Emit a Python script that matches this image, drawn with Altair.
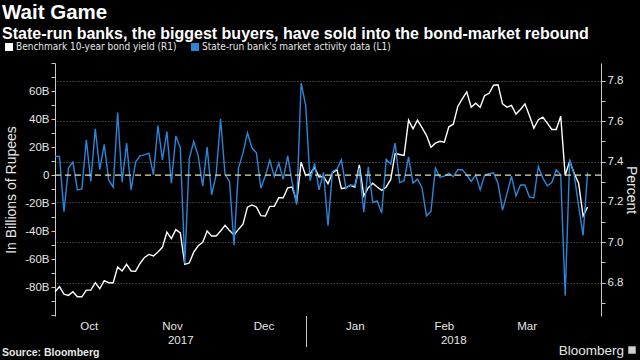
import altair as alt
import pandas as pd

# ---------------- data ----------------
# State-run banks' market activity, billions of rupees (left axis), one value per trading day
blue_vals = [
    13.3, 13.3, -26, 5, 9.3, -10.5, -9.8, 25.2, -4.5, 33,
    4, 22, -3.4, -8.6, 44.7, -5, 22.8, -10.5, 9.3, 13.8,
    14.5, 15.7, 0.2, 35.4, 10.9, 31, -5.7, 28, 19.5, -63,
    11.7, 24, 13.8, -7.8, 20, -14, 0, 40, 0.2, -4.5,
    -50, 5, 15.7, 30.2, 19.5, 16, -9.3, -0.5, 10.5, -1,
    8.6, -2.9, 13.8, -5.3, -21, 65.7, 50, -4, 8.4, -10.5,
    1.9, -36, 2.6, 4.3, 11, -9.3, -7, -7.6, 5, -26.5,
    6, -19.5, -18.4, -27, 11.2, 7.9, 22.8, -5.3, -4, 13,
    -5.7, -2.9, -9, -29, -26, 5, -1.4, -0.7, 1.2, -1,
    3.8, 3.8, 0.2, -4.5, 0.2, -10.5, 0, 1, 1.6, -6,
    -25, -13, -0.7, -14.8, -7, -7, -15.5, -16.2, 6.2, -2.1,
    -7.6, -5.3, 3.8, 0.2, -86, 11, 0.2, -22, -43, 2,
]
# Benchmark 10-year bond yield, percent (right axis)
yield_vals = [
    6.755, 6.78, 6.743, 6.737, 6.755, 6.73, 6.73, 6.763, 6.763, 6.80,
    6.77, 6.81, 6.80, 6.80, 6.878, 6.858, 6.891, 6.858, 6.856, 6.895,
    6.925, 6.94, 6.932, 6.952, 6.975, 7.05, 7.018, 7.063, 7.047, 6.891,
    6.898, 6.951, 6.983, 7.0, 7.056, 7.031, 7.031, 7.056, 7.084, 7.058,
    7.036, 7.064, 7.09, 7.174, 7.185, 7.175, 7.132, 7.13, 7.178, 7.178,
    7.221, 7.221, 7.27, 7.274, 7.2, 7.397, 7.331, 7.34, 7.37, 7.323,
    7.327, 7.29, 7.343, 7.36, 7.266, 7.27, 7.282, 7.274, 7.383, 7.23,
    7.27, 7.293, 7.274, 7.257, 7.274, 7.31, 7.439, 7.435, 7.43, 7.605,
    7.562, 7.605, 7.568, 7.53, 7.471, 7.491, 7.5, 7.496, 7.572, 7.585,
    7.673, 7.71, 7.745, 7.669, 7.689, 7.669, 7.727, 7.738, 7.778, 7.78,
    7.686, 7.669, 7.678, 7.635, 7.658, 7.686, 7.628, 7.565, 7.607, 7.62,
    7.59, 7.559, 7.559, 7.624, 7.331, 7.402, 7.342, 7.293, 7.13, 7.175,
]
series_names = ["Benchmark 10-year bond yield (R1)",
                "State-run bank's market activity data (L1)"]
# months, with the trading-day index at which each begins (last entry = start of April)
month_names = ["Oct", "Nov", "Dec", "Jan", "Feb", "Mar"]
month_starts = [0.0, 15.3, 37.2, 56.2, 78.0, 96.0, 115.0]
year_names = ["2017", "2018"]
year_starts = [0.0, 56.2]
x_end = 122.0
left_ticks = list(range(-100, 90, 10))
right_ticks = [round(6.7 + 0.1 * k, 1) for k in range(12)]
title_text = "Wait Game"
subtitle_text = "State-run banks, the biggest buyers, have sold into the bond-market rebound"
source_text = "Source: Bloomberg"
brand_text = "Bloomberg"

# ---------------- styling ----------------
W, H = 546, 253
BLUE = "#2b86d9"
WHITE = "#ffffff"
ZERO = "#dfe2b0"
GRID = "#707070"
AXIS = "#c8c8c8"
TEXT = "#e6e6e6"
FONT = "Liberation Sans"
NARROW = "Liberation Sans Narrow, DejaVu Sans Condensed, Liberation Sans"

n = len(blue_vals)
df_blue = pd.DataFrame({"idx": list(range(n)), "value": blue_vals, "series": series_names[1]})
df_yield = pd.DataFrame({"idx": list(range(n)), "pct": yield_vals, "series": series_names[0]})
df_months = pd.DataFrame({
    "name": month_names,
    "mid": [(month_starts[k] + month_starts[k + 1]) / 2 for k in range(len(month_names))],
})
year_ends = year_starts[1:] + [x_end]
df_years = pd.DataFrame({"name": year_names,
                         "mid": [(a + b) / 2 for a, b in zip(year_starts, year_ends)]})
df_sep = pd.DataFrame({"pos": year_starts[1:]})
df_zero = pd.DataFrame({"value": [0]})

xscale = alt.Scale(domain=[0, x_end], nice=False, zero=False)
left_scale = alt.Scale(domain=[-100.5, 80], nice=False, zero=False)
right_scale = alt.Scale(domain=[6.635, 7.888], nice=False, zero=False)
color_scale = alt.Scale(domain=series_names, range=[WHITE, BLUE])

x_axis = alt.Axis(values=month_starts[1:], labels=False, title=None, tickSize=5,
                  tickColor=AXIS, domainColor=AXIS, grid=True, gridDash=[1, 2],
                  gridColor=GRID, gridWidth=1)

right_axis = alt.Axis(
    orient="right", values=right_ticks, tickSize=4, tickColor=AXIS, domainColor=AXIS,
    labelExpr="round(datum.value*10) % 2 == 0 ? format(datum.value, '.1f') : ''",
    labelColor=TEXT, labelFont=FONT, labelFontSize=11.5, labelPadding=2,
    grid=True, gridDash=[1, 2], gridColor=GRID,
    gridOpacity={"condition": {"test": "round(datum.value*10) % 2 == 0", "value": 1}, "value": 0},
    title="Percent", titleColor=TEXT, titleFont=FONT, titleFontSize=14,
    titleFontWeight="normal", titleAngle=90, titleX=25, titleY=H / 2,
    titleAlign="center", titleBaseline="alphabetic",
)
left_axis = alt.Axis(
    orient="left", values=left_ticks, tickSize=4, tickColor=AXIS, domainColor=AXIS,
    labelExpr="(datum.value % 20 == 0 && datum.value >= -80 && datum.value <= 60) ? (datum.value == 0 ? '0' : datum.value + 'B') : ''",
    labelColor=TEXT, labelFont=FONT, labelFontSize=11.5, labelPadding=2, grid=False,
    title="In Billions of Rupees", titleColor=TEXT, titleFont=FONT, titleFontSize=14,
    titleFontWeight="normal", titleAngle=-90, titleX=-40, titleY=H / 2,
    titleAlign="center", titleBaseline="alphabetic",
)

legend = alt.Legend(
    orient="none", legendX=-51, legendY=-21, direction="horizontal", title=None,
    symbolType="square", symbolSize=16, symbolStrokeWidth=4, symbolOpacity=1,
    labelColor=TEXT, labelFont=NARROW, labelFontSize=10, labelOffset=2,
    labelLimit=400, columnPadding=8,
)

white_line = alt.Chart(df_yield).mark_line(strokeWidth=1.4).encode(
    x=alt.X("idx:Q", scale=xscale, axis=x_axis),
    y=alt.Y("pct:Q", scale=right_scale, axis=right_axis),
    color=alt.Color("series:N", scale=color_scale, legend=legend),
)

blue_line = alt.Chart(df_blue).mark_line(strokeWidth=1.4).encode(
    x=alt.X("idx:Q", scale=xscale, axis=x_axis),
    y=alt.Y("value:Q", scale=left_scale, axis=left_axis),
    color=alt.Color("series:N", scale=color_scale, legend=legend),
)
zero_rule = alt.Chart(df_zero).mark_rule(color=ZERO, strokeDash=[6, 4], strokeWidth=1.4).encode(
    y=alt.Y("value:Q", scale=left_scale, axis=left_axis),
)
left_group = alt.layer(blue_line, zero_rule)

month_text = alt.Chart(df_months).mark_text(
    color=TEXT, font=FONT, fontSize=11.5, align="center", baseline="alphabetic"
).encode(x=alt.X("mid:Q", scale=xscale, axis=None), y=alt.value(H + 14), text="name:N")

year_text = alt.Chart(df_years).mark_text(
    color=TEXT, font=FONT, fontSize=11.5, align="center", baseline="alphabetic"
).encode(x=alt.X("mid:Q", scale=xscale, axis=None), y=alt.value(H + 28), text="name:N")

sep_rule = alt.Chart(df_sep).mark_rule(color=AXIS, strokeWidth=1).encode(
    x=alt.X("pos:Q", scale=xscale, axis=None), y=alt.value(H), y2=alt.value(H + 31)
)

source = alt.Chart(pd.DataFrame({"t": [source_text]})).mark_text(
    color=TEXT, font=FONT, fontSize=10.5, fontWeight="bold", align="left", baseline="alphabetic"
).encode(x=alt.value(-53), y=alt.value(H + 40), text="t:N")

brand = alt.Chart(pd.DataFrame({"t": [brand_text]})).mark_text(
    color=TEXT, font=FONT, fontSize=13.5, align="right", baseline="alphabetic"
).encode(x=alt.value(W + 23), y=alt.value(H + 39), text="t:N")

brand_icon = alt.Chart(pd.DataFrame({"t": [brand_text]})).mark_square(
    color="#d0d0d0", size=56, opacity=1
).encode(x=alt.value(W + 31), y=alt.value(H + 34))

chart = alt.layer(
    white_line, left_group, sep_rule, month_text, year_text, source, brand, brand_icon
).resolve_scale(y="independent").properties(
    width=W, height=H,
    autosize=alt.AutoSizeParams(type="none"),
    padding={"left": 55, "top": 63, "right": 39, "bottom": 44},
    background="#000000",
    title=alt.TitleParams(
        text=title_text, subtitle=subtitle_text, anchor="start", frame="group",
        dx=-53, offset=0, font=FONT, fontSize=20.5, fontWeight="bold", color=WHITE,
        subtitleFont=FONT, subtitleFontSize=16, subtitleFontWeight="bold",
        subtitleColor=WHITE, subtitlePadding=3,
    ),
).configure_view(stroke=None)

chart.save("out.html", embed_options={"renderer": "svg", "actions": False})
